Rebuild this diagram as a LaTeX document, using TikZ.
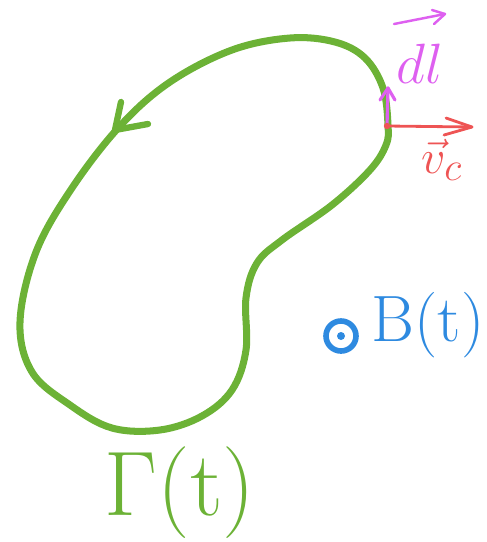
\documentclass[tikz,border=0pt]{standalone}
\usepackage{amsmath,amssymb}
\usepackage{graphicx}
\usepackage{tikz}
\usepackage{xcolor}
\usetikzlibrary{arrows.meta,positioning,calc}

\definecolor{loopgreen}{RGB}{108,178,54}
\definecolor{vred}{RGB}{238,84,84}
\definecolor{dlpink}{RGB}{222,96,240}
\definecolor{bblue}{RGB}{46,138,224}

\begin{document}
\begin{tikzpicture}[x=0.02cm, y=-0.02cm, line cap=round, line join=round,
    curve/.style={draw=loopgreen, line width=4pt},
    redline/.style={draw=vred, line width=1.6pt},
    pinkline/.style={draw=dlpink, line width=1.8pt}]
        \useasboundingbox (0,0) rectangle (487,542);
        % the loop Gamma(t)
        \draw[curve] plot[smooth cycle, tension=0.6] coordinates {
            (388,125) (383,88) (365,58) (335,42) (290,38) (232,50) (170,82)
            (120,126) (72,188) (36,252) (20,322) (32,372) (70,405) (112,428)
            (160,430) (202,416) (232,390) (246,350) (246,298) (257,263)
            (282,240) (332,205) (370,170) (386,145)};
        % direction mark
        \draw[curve, line width=3.6pt] (121,102) -- (115,130) -- (148,124);
        % point on the loop and its vectors
        \coordinate (p) at (387,126);
        \coordinate (pv) at (472,127);
        \coordinate (pl) at (388,88);
        \draw[redline] (p) -- (pv);
        \draw[redline] (446,118) -- (pv) -- (444,135);
        \draw[pinkline] (p) -- (pl);
        \draw[pinkline] (380,100) -- (pl) -- (395,100);
        \fill[vred] (p) circle (3.2);
        % labels
        \node[text=dlpink, font=\Huge] (dl) at (420,64) {\scalebox{1.3}{$dl$}};
        \draw[pinkline, line width=1.4pt] (394,24) -- (445,14);
        \draw[pinkline, line width=1.4pt] (432,10) -- (445,14) -- (434,24);
        \node[text=vred, font=\Huge] (vc) at (442,160) {\scalebox{1.1}{$\vec{v}_c$}};
        \draw[bblue, line width=3.2pt] (341,336) circle (15);
        \fill[bblue] (341,336) circle (4);
        \node[text=bblue, font=\Huge] (bt) at (428,325) {\scalebox{1.5}{$\mathrm{B}(\mathrm{t})$}};
        \node[text=loopgreen, font=\Huge] (gt) at (180,493) {\scalebox{2.1}{$\Gamma(\mathrm{t})$}};
      \end{tikzpicture}
\end{document}
